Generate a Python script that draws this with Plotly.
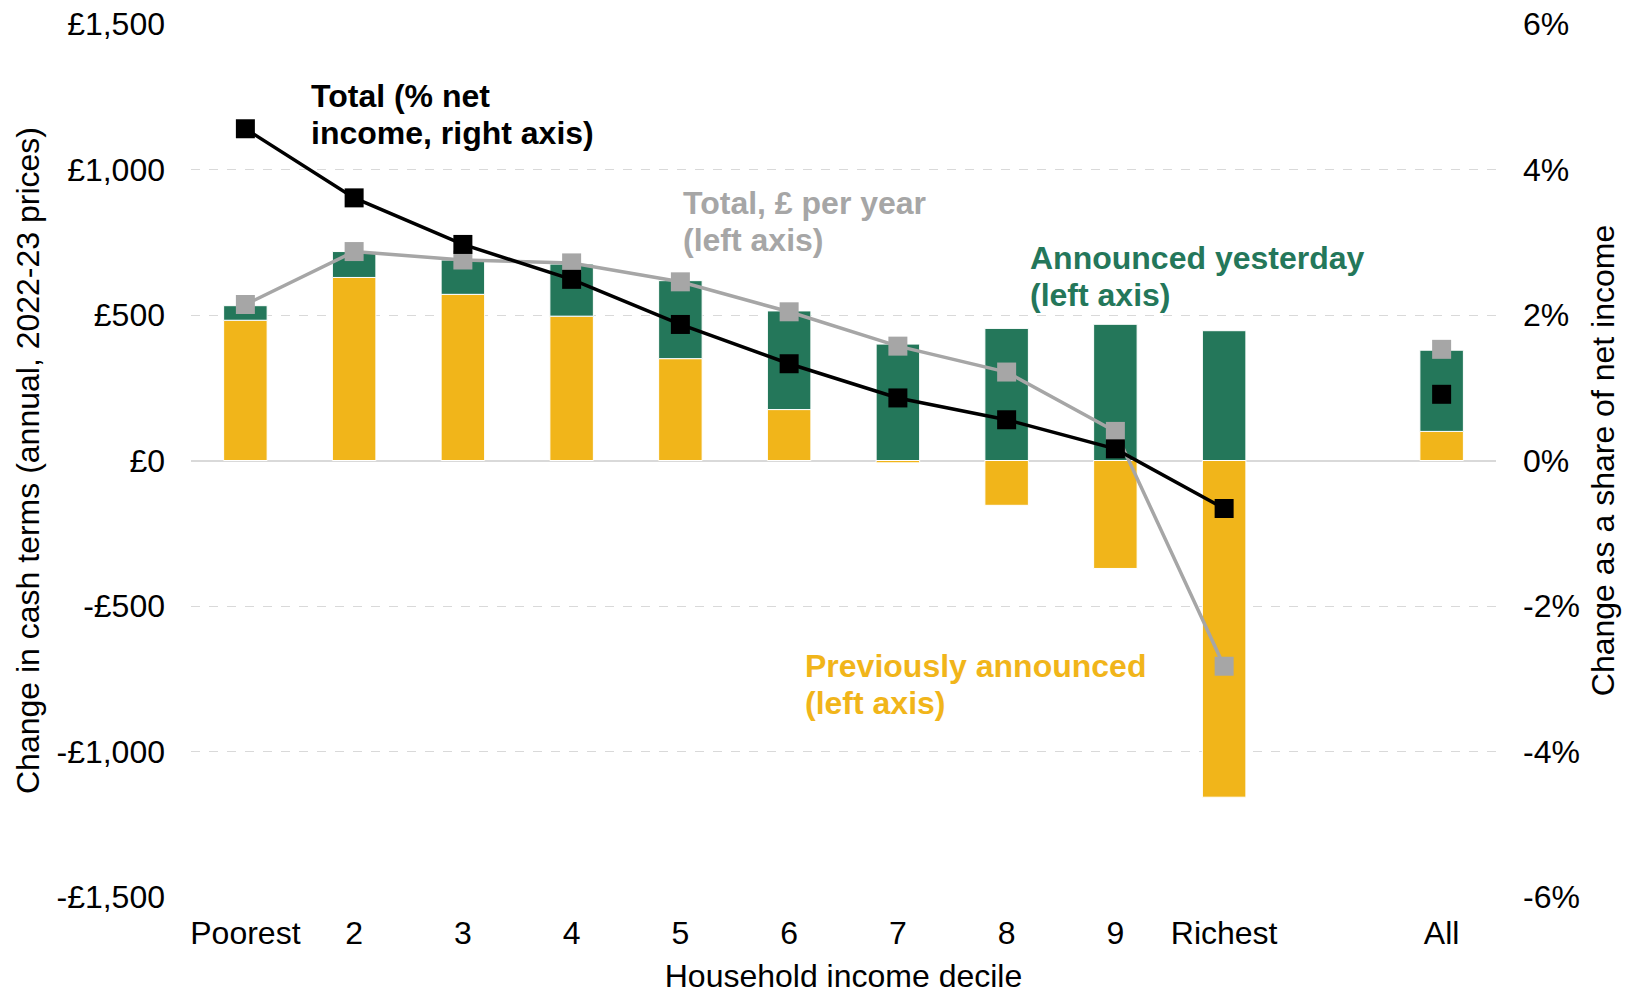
import plotly.graph_objects as go

categories = ["Poorest", "2", "3", "4", "5", "6", "7", "8", "9", "Richest", " ", "All"]
previously_announced = [482, 629, 571, 496, 350, 175, -8, -154, -371, -1157, None, 100]
announced_yesterday = [50, 89, 118, 179, 268, 339, 400, 454, 468, 446, None, 279]
total_gbp = [536, 718, 689, 679, 614, 511, 393, 304, 100, -707, None, 382]
total_pct = [4.56, 3.61, 2.97, 2.49, 1.87, 1.33, 0.86, 0.56, 0.16, -0.66, None, 0.91]

YELLOW = "#F1B51A"
GREEN = "#24775A"
GREY = "#A6A6A6"
FONT = "Liberation Sans, Arial, sans-serif"
FS = 32

W, H = 1633, 995
L, R, T, B = 191, 137, 24, 98

fig = go.Figure()
fig.add_trace(go.Bar(x=categories, y=previously_announced, marker=dict(color=YELLOW, line=dict(color="white", width=1)),
                     name="Previously announced", width=0.4))
fig.add_trace(go.Bar(x=categories, y=announced_yesterday, marker=dict(color=GREEN, line=dict(color="white", width=1)),
                     name="Announced yesterday", width=0.4))
fig.add_trace(go.Scatter(x=categories, y=total_gbp, mode="lines+markers",
                         line=dict(color=GREY, width=3.5),
                         marker=dict(symbol="square", size=19, color=GREY),
                         connectgaps=False, name="Total, £ per year"))
fig.add_trace(go.Scatter(x=categories, y=total_pct, mode="lines+markers", yaxis="y2",
                         line=dict(color="black", width=3.5),
                         marker=dict(symbol="square", size=19, color="black"),
                         connectgaps=False, name="Total (% net income)"))

fig.update_layout(
    barmode="relative",
    width=W, height=H,
    plot_bgcolor="white", paper_bgcolor="white",
    margin=dict(l=L, r=R, t=T, b=B),
    showlegend=False,
    font=dict(family=FONT, size=FS, color="black"),
    xaxis=dict(type="category", categoryorder="array", categoryarray=categories, automargin=False,
               range=[-0.5, 11.5], ticklabeloverflow="allow",
               showgrid=False, showline=False, ticks="", tickfont=dict(size=FS), ticklabelstandoff=14,
               title=dict(text="Household income decile", font=dict(size=FS), standoff=14)),
    yaxis=dict(range=[-1500, 1500], tickvals=[-1500, -1000, -500, 0, 500, 1000, 1500],
               ticktext=["-£1,500", "-£1,000", "-£500", "£0", "£500", "£1,000", "£1,500"],
               showgrid=True, gridcolor="#D9D9D9", griddash="dash", gridwidth=1.3,
               zeroline=True, zerolinecolor="#D9D9D9", zerolinewidth=2, automargin=False,
               ticklabeloverflow="allow",
               ticks="", tickfont=dict(size=FS), ticklabelstandoff=25,
               title=dict(text="Change in cash terms (annual, 2022-23 prices)", font=dict(size=FS), standoff=7)),
    yaxis2=dict(range=[-6, 6], tickvals=[-6, -4, -2, 0, 2, 4, 6],
                ticktext=["-6%", "-4%", "-2%", "0%", "2%", "4%", "6%"],
                overlaying="y", side="right", showgrid=False, zeroline=False, ticks="", automargin=False,
                ticklabeloverflow="allow",
                tickfont=dict(size=FS), ticklabelstandoff=26,
                title=dict(text="Change as a share of net income", font=dict(size=FS), standoff=12)),
    bargap=0.6,
)

S = 0.96
pw = W - L - R
ph = H - T - B
def px(xd, yd):
    return (xd / S - L) / pw, 1 - (yd / S - T) / ph

def label(lines, xd, yds, color):
    for line, yd in zip(lines, yds):
        x, y = px(xd, yd)
        fig.add_annotation(text="<b>" + line + "</b>", x=x, y=y, xref="paper", yref="paper",
                           xanchor="left", yanchor="middle", align="left", showarrow=False,
                           font=dict(family=FONT, size=FS, color=color))

label(["Total (% net", "income, right axis)"], 297, [92, 128], "black")
label(["Total, £ per year", "(left axis)"], 654, [195, 230], GREY)
label(["Announced yesterday", "(left axis)"], 987, [248, 283], GREEN)
label(["Previously announced", "(left axis)"], 771, [639, 675], YELLOW)

fig.write_html("out.html", config={"displayModeBar": False},
               post_script="document.body.style.margin='0';document.body.style.overflow='hidden';")
